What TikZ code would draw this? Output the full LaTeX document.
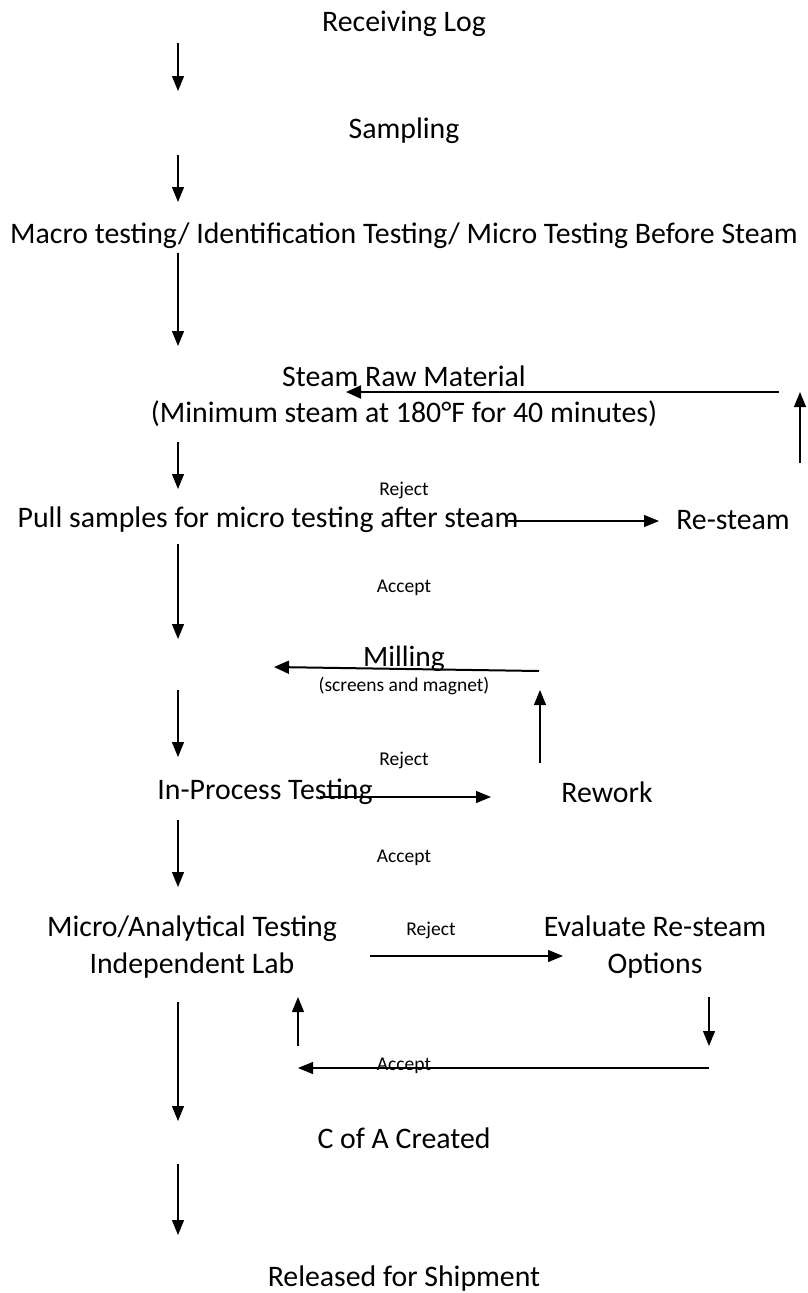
\documentclass[tikz,border=0pt]{standalone}
\usepackage{fontspec}
\setmainfont{Carlito}
\usetikzlibrary{arrows.meta}
\begin{document}
\begin{tikzpicture}[x=1pt,y=-1pt,
  lbl/.style={inner sep=0pt,font=\fontsize{29.8}{36.5}\selectfont,align=center},
  big/.style={inner sep=0pt,font=\fontsize{29.5}{36}\selectfont},
  small/.style={inner sep=0pt,font=\fontsize{19.5}{22}\selectfont},
  arr/.style={line width=1.2pt,-{Triangle[length=15pt,width=12pt]}},
  thick arr/.style={line width=2pt,-{Triangle[length=15pt,width=13pt]}}]
\useasboundingbox (0,0) rectangle (808,1293);
% text nodes
\node[lbl] (recv) at (404,24) {Receiving Log};
\node[lbl] (samp) at (404,131) {Sampling};
\node[lbl] (macro) at (404,236) {Macro testing/ Identification Testing/ Micro Testing Before Steam};
\node[lbl] (steam) at (404,396) {Steam Raw Material\\(Minimum steam at 180°F for 40 minutes)};
\node[small] (rej1) at (404,490) {Reject};
\node[lbl] (pull) at (268,520) {Pull samples for micro testing after steam};
\node[lbl] (resteam) at (733,520) {Re-steam};
\node[small] (acc1) at (404,588) {Accept};
\node[big] (mill) at (404,659) {Milling};
\node[small] (screens) at (404,686) {(screens and magnet)};
\node[small] (rej2) at (404,760) {Reject};
\node[lbl] (inproc) at (265,792) {In-Process Testing};
\node[lbl] (rework) at (607,792) {Rework};
\node[small] (acc2) at (404,858) {Accept};
\node[lbl] (micro) at (192,947) {Micro/Analytical Testing\\Independent Lab};
\node[small] (rej3) at (431,930) {Reject};
\node[lbl] (eval) at (655,947) {Evaluate Re-steam\\Options};
\node[small] (acc3) at (404,1066) {Accept};
\node[lbl] (coa) at (404,1138) {C of A Created};
\node[lbl] (rel) at (404,1279) {Released for Shipment};
% arrow end points
\coordinate (a1s) at (178,43);   \coordinate (a1e) at (178,91);
\coordinate (a2s) at (178,155);  \coordinate (a2e) at (178,202);
\coordinate (a3s) at (178,253);  \coordinate (a3e) at (178,346);
\coordinate (a4s) at (178,442);  \coordinate (a4e) at (178,489);
\coordinate (a5s) at (178,544);  \coordinate (a5e) at (178,639);
\coordinate (a6s) at (178,690);  \coordinate (a6e) at (178,757);
\coordinate (a7s) at (178,820);  \coordinate (a7e) at (178,887);
\coordinate (a8s) at (178,1002); \coordinate (a8e) at (178,1121);
\coordinate (a9s) at (178,1164); \coordinate (a9e) at (178,1235);
\coordinate (rsA) at (508,521);  \coordinate (rsB) at (659,521);
\coordinate (upA) at (800,463);  \coordinate (upB) at (800,392);
\coordinate (stA) at (779,392);  \coordinate (stB) at (346,392);
\coordinate (rwA) at (320,797);  \coordinate (rwB) at (491,797);
\coordinate (rwuA) at (540,763); \coordinate (rwuB) at (540,690);
\coordinate (mlA) at (539,671);  \coordinate (mlB) at (274,667);
\coordinate (evA) at (370,956);  \coordinate (evB) at (563,956);
\coordinate (evdA) at (709,997); \coordinate (evdB) at (709,1046);
\coordinate (acA) at (709,1068); \coordinate (acB) at (298,1068);
\coordinate (muA) at (298,1046); \coordinate (muB) at (298,997);
% arrows
\foreach \i in {1,...,9} {\draw[arr] (a\i s) -- (a\i e);}
\draw[arr] (rsA) -- (rsB);
\draw[arr] (upA) -- (upB);
\draw[thick arr] (stA) -- (stB);
\draw[arr] (rwA) -- (rwB);
\draw[arr] (rwuA) -- (rwuB);
\draw[thick arr] (mlA) -- (mlB);
\draw[arr] (evA) -- (evB);
\draw[arr] (evdA) -- (evdB);
\draw[arr] (acA) -- (acB);
\draw[arr] (muA) -- (muB);
\end{tikzpicture}
\end{document}
